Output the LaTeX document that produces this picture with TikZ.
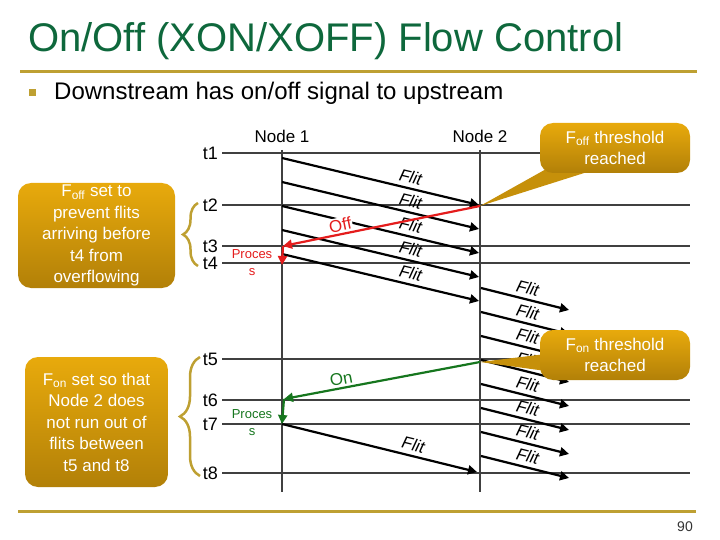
\documentclass[tikz,border=0pt]{standalone}
\usepackage{fontspec}
\setmainfont{Liberation Sans}
\usetikzlibrary{arrows.meta, positioning, decorations.pathreplacing}

\definecolor{titlegreen}{RGB}{14,104,60}
\definecolor{rulegold}{RGB}{190,160,50}
\definecolor{boxtop}{RGB}{232,170,12}
\definecolor{boxbot}{RGB}{178,128,8}
\definecolor{boxmid}{RGB}{198,144,10}
\definecolor{offred}{RGB}{228,28,28}
\definecolor{ongreen}{RGB}{22,118,30}
\definecolor{linegray}{RGB}{64,64,64}

\begin{document}
\begin{tikzpicture}[x=1pt, y=-1pt,
			every node/.style={inner sep=1pt},
			timeline/.style={draw=linegray, line width=1.8pt},
			lifeline/.style={draw=linegray, line width=2.4pt},
			flit/.style={draw=black, line width=2.2pt, -{Triangle[length=9pt, width=9pt]}},
			flitlbl/.style={sloped, above=3pt, font=\fontsize{17}{17}\selectfont\itshape},
			tlbl/.style={font=\fontsize{18}{18}\selectfont},
			hdr/.style={font=\fontsize{17}{17}\selectfont},
			note/.style={rounded corners=13pt, top color=boxtop, bottom color=boxbot,
				text=white, align=center, font=\fontsize{17}{21.5}\selectfont},
			sigoff/.style={draw=offred, line width=2.2pt, -{Triangle[length=9pt, width=9pt]}},
			sigon/.style={draw=ongreen, line width=2.2pt, -{Triangle[length=9pt, width=9pt]}},
			proc/.style={align=center, font=\fontsize{13}{17}\selectfont},
			brc/.style={draw=rulegold, line width=2.5pt, decorate, decoration={brace, amplitude=#1}}
			]
			\useasboundingbox (0,0) rectangle (720,540);
			
			% slide head
			\node[anchor=base west, text=titlegreen, font=\fontsize{40}{40}\selectfont] (title) at (27,52) {On/Off (XON/XOFF) Flow Control};
			\coordinate (rulel) at (20,72);
			\coordinate (ruler) at (697,72);
			\draw[rulegold, line width=3pt] (rulel) -- (ruler);
			\node[fill=rulegold, minimum size=7pt, inner sep=0pt] (bul) at (32,93) {};
			\node[anchor=base west, font=\fontsize{24}{24}\selectfont] (sub) at (53,100) {Downstream has on/off signal to upstream};
			
			% lifelines
			\coordinate (n1top) at (282,150);
			\coordinate (n1bot) at (282,492);
			\coordinate (n2top) at (480,150);
			\coordinate (n2bot) at (480,492);
			\node[hdr] (node1) at (282,136) {Node 1};
			\node[hdr] (node2) at (480,136) {Node 2};
			
			% time lines
			\foreach \tn/\ty in {1/153,2/205,3/246,4/263,5/359,6/400,7/424,8/473} {
				\coordinate (ta\tn) at (222,\ty);
				\coordinate (tb\tn) at (690,\ty);
				\draw[timeline] (ta\tn) -- (tb\tn);
				\node[tlbl, left=3pt of ta\tn] (t\tn) {t\tn};
			}
			\draw[lifeline] (n1top) -- (n1bot);
			\draw[lifeline] (n2top) -- (n2bot);
			
			% flits node 1 -> node 2
			\foreach \ys [count=\i] in {158,182,206,230,254} {
				\coordinate (ls\i) at (282,\ys);
				\coordinate (le\i) at (479,\ys+47);
				\draw[flit] (ls\i) -- node[flitlbl, pos=0.64] {Flit} (le\i);
			}
			% flits node 2 -> downstream
			\foreach \ys [count=\i] in {288,312,...,456} {
				\coordinate (rs\i) at (481,\ys);
				\coordinate (re\i) at (569,\ys+22);
				\draw[flit] (rs\i) -- node[flitlbl, pos=0.5] {Flit} (re\i);
			}
			\coordinate (lsb) at (282,424);
			\coordinate (leb) at (477,472);
			\draw[flit] (lsb) -- node[flitlbl, pos=0.66] {Flit} (leb);
			
			% off signal
			\coordinate (offstart) at (480,206);
			\coordinate (offend) at (283,246);
			\coordinate (offproc) at (282,265);
			\draw[sigoff] (offstart) -- node[pos=0.7, sloped, above=1pt, fill=white, text=offred, font=\fontsize{17}{17}\selectfont] {Off} (offend);
			\draw[sigoff] (offend) -- (offproc);
			\node[proc, text=offred] (procoff) at (252,263) {Proces\\s};
			
			% on signal
			\coordinate (onstart) at (480,362);
			\coordinate (onend) at (284,399);
			\coordinate (onproc) at (282,424);
			\draw[sigon] (onstart) -- node[pos=0.7, sloped, above=1pt, text=ongreen, font=\fontsize{17}{17}\selectfont] {On} (onend);
			\draw[sigon] (onend) -- (onproc);
			\node[proc, text=ongreen] (procon) at (252,423) {Proces\\s};
			
			% threshold callouts
			\coordinate (offb1) at (548,168);
			\coordinate (offb2) at (600,168);
			\fill[boxmid] (offb1) -- (offstart) -- (offb2) -- cycle;
			\node[note, minimum width=150pt, minimum height=50pt] (offthresh) at (615,148) {F\textsubscript{off} threshold\\reached};
			\coordinate (onb1) at (546,354);
			\coordinate (onb2) at (546,371);
			\fill[boxmid] (onb1) -- (onstart) -- (onb2) -- cycle;
			\node[note, minimum width=150pt, minimum height=50pt] (onthresh) at (615,355) {F\textsubscript{on} threshold\\reached};
			
			% reasons
			\node[note, minimum width=157pt, minimum height=105pt] (offwhy) at (96.5,235.5) {F\textsubscript{off} set to\\prevent flits\\arriving before\\t4 from\\overflowing};
			\node[note, minimum width=143pt, minimum height=130pt] (onwhy) at (96.5,422) {F\textsubscript{on} set so that\\Node 2 does\\not run out of\\flits between\\t5 and t8};
			\coordinate (offbrb) at (198,266);
			\coordinate (offbrt) at (198,203);
			\draw[brc=15pt] (offbrb) -- (offbrt);
			\coordinate (onbrb) at (200,476);
			\coordinate (onbrt) at (200,357);
			\draw[brc=20pt] (onbrb) -- (onbrt);
			
			% foot
			\coordinate (footl) at (18,511);
			\coordinate (footr) at (696,511);
			\draw[rulegold, line width=3pt] (footl) -- (footr);
			\node[font=\fontsize{14}{14}\selectfont, text=black!80] (pagenum) at (685,527) {90};
		\end{tikzpicture}
\end{document}
